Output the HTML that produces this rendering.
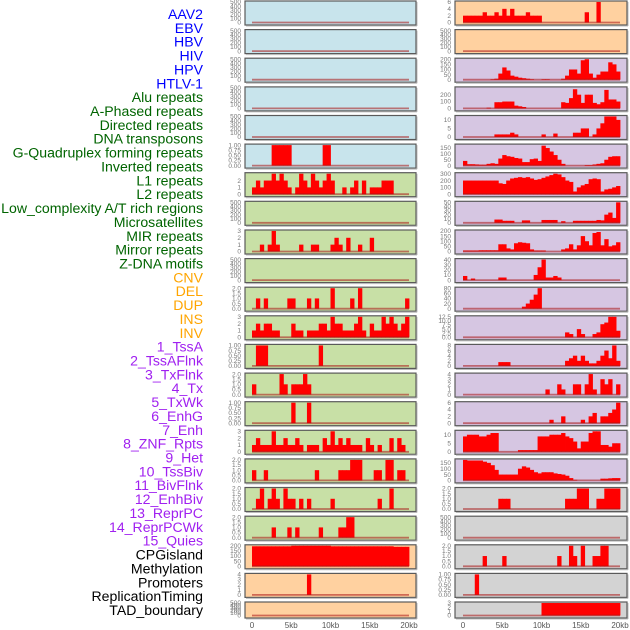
<!DOCTYPE html>
<html><head><meta charset="utf-8">
<style>
html,body{margin:0;padding:0;background:#fff;width:630px;height:630px;overflow:hidden}
svg{display:block}
</style></head>
<body>
<svg id="chart" width="630" height="630" viewBox="0 0 630 630" xmlns="http://www.w3.org/2000/svg"></svg>
<script>
// ---------- data ----------
const trackLabels = ["AAV2","EBV","HBV","HIV","HPV","HTLV-1","Alu repeats","A-Phased repeats","Directed repeats","DNA transposons","G-Quadruplex forming repeats","Inverted repeats","L1 repeats","L2 repeats","Low_complexity A/T rich regions","Microsatellites","MIR repeats","Mirror repeats","Z-DNA motifs","CNV","DEL","DUP","INS","INV","1_TssA","2_TssAFlnk","3_TxFlnk","4_Tx","5_TxWk","6_EnhG","7_Enh","8_ZNF_Rpts","9_Het","10_TssBiv","11_BivFlnk","12_EnhBiv","13_ReprPC","14_ReprPCWk","15_Quies","CPGisland","Methylation","Promoters","ReplicationTiming","TAD_boundary"];
const labelGroups = [6,13,5,15,5];
const groupColors = ["#0000ff","#006400","#ffa500","#a020f0","#000000"];
const xTickValues = [0,5,10,15,20];
const xTickLabels = ["0","5kb","10kb","15kb","20kb"];
const binKb = 0.5;

const leftBg  = ["#c8e4ec","#c8e4ec","#c8e4ec","#c8e4ec","#c8e4ec","#c8e4ec","#c8e0a6","#c8e0a6","#c8e0a6","#c8e0a6","#c8e0a6","#c8e0a6","#c8e0a6","#c8e0a6","#c8e0a6","#c8e0a6","#c8e0a6","#c8e0a6","#c8e0a6","#ffd1a0","#ffd1a0","#ffd1a0"];
const rightBg = ["#ffd1a0","#ffd1a0","#d6c6e2","#d6c6e2","#d6c6e2","#d6c6e2","#d6c6e2","#d6c6e2","#d6c6e2","#d6c6e2","#d6c6e2","#d6c6e2","#d6c6e2","#d6c6e2","#d6c6e2","#d6c6e2","#d6c6e2","#d3d3d3","#d3d3d3","#d3d3d3","#d3d3d3","#d3d3d3"];

const leftYMax = [500,500,500,500,500,1,3,500,3,500,2,3,1,2,1,3,2,2,2,200,4,500];
const rightYMax = [6,500,200,300,12,175,300,50,200,40,80,12.5,8,4,6,12,175,2,500,2,1,3];

const T500 = [0,100,200,300,400,500];
const T1 = [0,0.25,0.5,0.75,1];
const T2 = [0,0.5,1,1.5,2];
const leftTicks = [T500,T500,T500,T500,T500,T1,[0,1,2],T500,[0,1,2,3],T500,T2,[0,1,2,3],T1,T2,T1,[0,1,2,3],T2,T2,T2,[0,50,100,150,200],[0,1,2,3,4],T500];
const rightTicks = [[0,2,4,6],T500,[0,50,100,150,200],[0,100,200],[0,5,10],[0,50,100,150],[0,100,200,300],[0,10,20,30,40,50],[0,50,100,150,200],[0,10,20,30,40],[0,20,40,60,80],[0,2.5,5,7.5,10,12.5],[0,2,4,6,8],[0,1,2,3,4],[0,2,4,6],[0,5,10],[0,50,100,150],T2,T500,T2,T1,[0,1,2,3]];
const leftTickDigits = [0,0,0,0,0,2,0,0,0,0,1,0,2,1,2,0,1,1,1,0,0,0];
const rightTickDigits = [0,0,0,0,0,0,0,0,0,0,0,1,0,0,0,0,0,1,0,1,2,0];

const E = new Array(40).fill(0);
const L05 = [0,0,0,0,0,1,1,1,1,1, 0,0,0,0,0,0,0,0,1,1, 0,0,0,0,0,0,0,0,0,0, 0,0,0,0,0,0,0,0,0,0];
const L06 = [1,2,1,2,2,3,2,3,2,1, 0,1,3,2,1,3,2,1,2,3, 2,0,0,1,0,1,2,0,2,0, 1,1,1,2,2,2,0,0,0,0];
const L08 = [0,0,1,0,1,3,1,0,0,0, 0,0,1,0,0,1,1,0,0,0, 1,2,1,0,2,0,0,1,0,0, 2,0,0,0,0,0,0,0,0,0];
const L10 = [0,1,0,1,0,0,0,0,0,1, 1,0,0,0,1,0,1,0,0,0, 2,0,0,0,0,1,0,2,0,0, 0,0,0,0,0,0,0,0,0,1];
const L11 = [1,2,1,2,2,1,1,0,0,0, 2,1,1,0,1,1,1,2,2,1, 3,2,2,1,1,1,2,3,1,0, 2,1,1,3,2,3,2,1,2,3];
const L12 = [0,1,1,1,0,0,0,0,0,0, 0,0,0,0,0,0,0,1,0,0, 0,0,0,0,0,0,0,0,0,0, 0,0,0,0,0,0,0,0,0,0];
const L13 = [1,0,0,0,0,0,0,2,1,0, 1,1,1,2,1,0,0,0,0,0, 0,0,0,0,0,0,0,0,0,0, 0,0,0,0,0,0,0,0,0,0];
const L14 = [0,0,0,0,0,0,0,0,0,0, 1,0,0,0,1,0,0,0,0,0, 0,0,0,0,0,0,0,0,0,0, 0,0,0,0,0,0,0,0,0,0];
const L15 = [1,2,1,1,1,3,1,1,2,1, 1,2,1,0,1,1,1,0,2,1, 3,1,2,1,2,1,1,1,0,2, 1,0,1,0,0,2,0,2,1,0];
const L16 = [1,0,0,1,0,0,0,0,0,0, 0,0,0,0,0,0,1,0,0,0, 0,0,1,1,1,2,2,2,0,0, 0,1,1,0,2,2,0,1,1,0];
const L17 = [0,1,2,0,1,2,1,0,2,1, 1,0,1,0,1,0,0,0,0,0, 1,0,0,0,0,0,0,0,0,0, 0,0,1,0,0,2,0,0,0,0];
const L18 = [0,0,0,0,0,1,0,0,0,1, 0,1,0,0,0,0,0,1,0,0, 0,0,1,1,2,2,0,0,0,0, 0,0,0,0,0,0,0,0,0,0];
const L19 = [195,195,195,195,195,195,195,195,195,195, 200,200,200,200,200,200,200,200,200,200, 195,195,195,195,195,195,195,195,195,195, 195,195,195,195,195,195,190,190,190,190];
const L20 = [0,0,0,0,0,0,0,0,0,0, 0,0,0,0,4,0,0,0,0,0, 0,0,0,0,0,0,0,0,0,0, 0,0,0,0,0,0,0,0,0,0];

const R00 = [2,2,2,2,2,3,2,2,3,2, 4,2,4,2,2,2,3,2,2,2, 0,0,0,0,0,0,0,0,0,0, 0,3,0,0,6,0,0,0,0,0];
const R02 = [0,0,0,0,0,0,0,5,10,60, 120,90,40,30,20,15,10,5,0,0, 5,5,0,0,0,10,40,100,100,60, 190,200,60,20,50,80,80,170,150,80];
const R03 = [0,0,0,0,0,0,10,0,90,90, 100,100,100,40,30,20,0,0,0,0, 0,0,0,0,0,90,80,150,280,200, 80,200,200,80,60,90,270,130,130,100];
const R04 = [0,0,0,0,0,0,0,0,1.5,1.5, 1.5,1.5,2.5,1.5,0,0,0,0,0,0, 1.5,0,0,2,0,0,0,0,2.5,2.5, 5,5,0,1.5,5,8,12,12,12,10];
const R05 = [40,12,12,10,8,8,15,20,15,60, 90,80,75,65,60,30,30,55,60,40, 170,150,120,90,50,15,0,0,0,0, 0,5,5,10,15,20,50,75,80,80];
const R06 = [200,200,200,200,200,200,200,200,200,160, 150,200,230,240,250,240,250,230,210,220, 240,260,280,300,290,250,200,180,40,100, 130,150,220,230,220,40,70,80,100,120];
const R07 = [0,0,0,0,0,0,0,0,8,8, 5,5,5,0,0,6,6,0,0,0, 7,7,7,7,0,4,0,0,5,5, 5,5,5,5,7,6,20,25,12,50];
const R08 = [10,10,10,10,12,12,12,12,12,70, 70,30,20,80,90,85,80,20,10,10, 10,0,0,0,0,20,30,70,20,60, 150,100,60,180,190,60,120,50,60,90];
const R09 = [8,0,3,0,0,0,0,0,0,5, 5,0,0,0,0,0,0,0,10,25, 40,5,5,8,5,0,0,0,0,0, 0,0,0,0,0,0,0,0,0,0];
const R10 = [0,0,0,0,0,0,0,0,0,0, 0,0,0,0,0,8,20,35,55,80, 0,0,0,0,0,0,0,0,0,0, 0,0,0,0,0,0,0,0,0,0];
const R11 = [0,0,0,0,0,0,0,0,0,0, 0,0,0,0,0,0,0,0,0,0, 0,0,0,0,0,0,3,2,0,5, 2,0,0,2,3,8,9,12.5,12.5,4];
const R12 = [0,0,0,0,0,0,0,0,0,1.5, 1.5,1.5,0,0,0,0,0,0,0,0, 0,0,0,0,0,0,2,3,4,2, 4,2,1,1,2,4,6,3,8,2];
const R13 = [0,0,0,0,0,0,0,0,0,0, 0,0,0,0,0,0,0,0,0,0, 0,1,0,0,2,1,0,0,2,2, 0,2,4,1,0,3,2,3,0,2];
const R14 = [0,0,0,0,0,0,0,0,0,0, 0,0,0,0,0,0,0,0,0,0, 0,0,1,0,0,2,0,0,0,0, 1,0,2,3,0,2,2,3,4,6];
const R15 = [9,10,10,10,9,9,10,11,11,0, 0,0,0,0,1,1,1,1,1,9, 9,9,10,10,10,11,9,8,6,2, 6,6,11,12,12,4,4,3,5,5];
const R16 = [175,170,170,170,170,160,150,130,90,50, 50,50,50,50,100,120,110,90,70,60, 70,70,70,60,55,50,40,20,5,0, 0,0,0,0,0,15,15,18,20,20];
const R17 = [0,0,0,0,0,0,0,0,0,1, 1,1,0,0,0,0,0,0,0,0, 0,0,0,0,0,0,1,1,1,2, 2,2,0,0,1,1,2,2,2,2];
const R19 = [0,0,0,0,0,1,0,0,0,0, 1,0,0,0,0,0,0,0,0,0, 0,0,0,0,1,0,0,2,1,0, 2,0,0,1,1,2,2,0,0,0];
const R20 = [0,0,0,1,0,0,0,0,0,0, 0,0,0,0,0,0,0,0,0,0, 0,0,0,0,0,0,0,0,0,0, 0,0,0,0,0,0,0,0,0,0];
const R21 = [0,0,0,0,0,0,0,0,0,0, 0,0,0,0,0,0,0,0,0,0, 3,3,3,3,3,3,3,3,3,3, 3,3,3,3,3,3,3,3,3,3];

const leftValues = [E,E,E,E,E,L05,L06,E,L08,E,L10,L11,L12,L13,L14,L15,L16,L17,L18,L19,L20,E];
const rightValues = [R00,E,R02,R03,R04,R05,R06,R07,R08,R09,R10,R11,R12,R13,R14,R15,R16,R17,E,R19,R20,R21];

// ---------- layout ----------
const NS = "http://www.w3.org/2000/svg";
const svg = document.getElementById("chart");
const columns = [
  {x0:245, x1:416, z0:252, z20:409, tickX:241, bg:leftBg, ymax:leftYMax, ticks:leftTicks, digits:leftTickDigits, vals:leftValues, side:"left"},
  {x0:455, x1:627, z0:463, z20:620, tickX:451, bg:rightBg, ymax:rightYMax, ticks:rightTicks, digits:rightTickDigits, vals:rightValues, side:"right"}
];
function mk(tag, attrs){ const e=document.createElementNS(NS,tag); for(const k in attrs) e.setAttribute(k,attrs[k]); svg.appendChild(e); return e; }
function panelTop(i){ return 1 + i*28.62; }
function panelH(i){ return i===21 ? 16 : 24; }

// labels
let li = 0;
labelGroups.forEach((n,g)=>{
  for(let k=0;k<n;k++){
    const t = mk("text",{x:203, y:(19 + li*13.86).toFixed(1), "text-anchor":"end", "font-family":"Liberation Sans, sans-serif", "font-size":"14.1", fill:groupColors[g]});
    
    
    t.textContent = trackLabels[li];
    li++;
  }
});

columns.forEach(col=>{
  const xs = kb => col.z0 + (kb/20)*(col.z20-col.z0);
  for(let i=0;i<22;i++){
    const top = panelTop(i), h = panelH(i);
    const base = top + h - 2.5, yTop = top + 1;
    const ys = v => base - (v/col.ymax[i])*(base-yTop);
    const bg = mk("rect",{x:col.x0, y:top.toFixed(1), width:col.x1-col.x0, height:h, fill:col.bg[i], stroke:"#5a5a5a", "stroke-width":1.2});
    
    
    mk("line",{x1:col.x0+1, y1:top+h+1, x2:col.x1+1, y2:top+h+1, stroke:"#bbb", "stroke-width":1});
    mk("line",{x1:col.x1+1, y1:top+1, x2:col.x1+1, y2:top+h+1, stroke:"#bbb", "stroke-width":1});
    // bars
    const vals = col.vals[i];
    for(let b=0;b<vals.length;b++){
      if(!vals[b]) continue;
      const xa = xs(b*binKb), xb = xs((b+1)*binKb);
      const y = ys(vals[b]);
      const r = mk("rect",{x:xa.toFixed(2), y:y.toFixed(2), width:(xb-xa+0.4).toFixed(2), height:Math.max(0,base-y).toFixed(2), fill:"#ff0000"});
      
      
    }
    // baseline
    const bl = mk("line",{x1:xs(0), y1:base.toFixed(1), x2:xs(20), y2:base.toFixed(1), stroke:"rgba(170,20,20,0.55)", "stroke-width":1.8});
    
    
    // y ticks
    col.ticks[i].forEach(tv=>{
      if(tv>col.ymax[i]) return;
      const t = mk("text",{x:col.tickX, y:(ys(tv)+2.2).toFixed(1), "text-anchor":"end", "font-family":"Liberation Sans, sans-serif", "font-size":"6.5", fill:"#777"});
      
      
      t.textContent = tv.toFixed(col.digits[i]);
    });
  }
  // x ticks
  xTickValues.forEach((v,k)=>{
    const t = mk("text",{x:xs(v), y:628, "text-anchor":"middle", "font-family":"Liberation Sans, sans-serif", "font-size":"8", fill:"#555"});
    
    
    t.textContent = xTickLabels[k];
  });
});
</script>
</body></html>
